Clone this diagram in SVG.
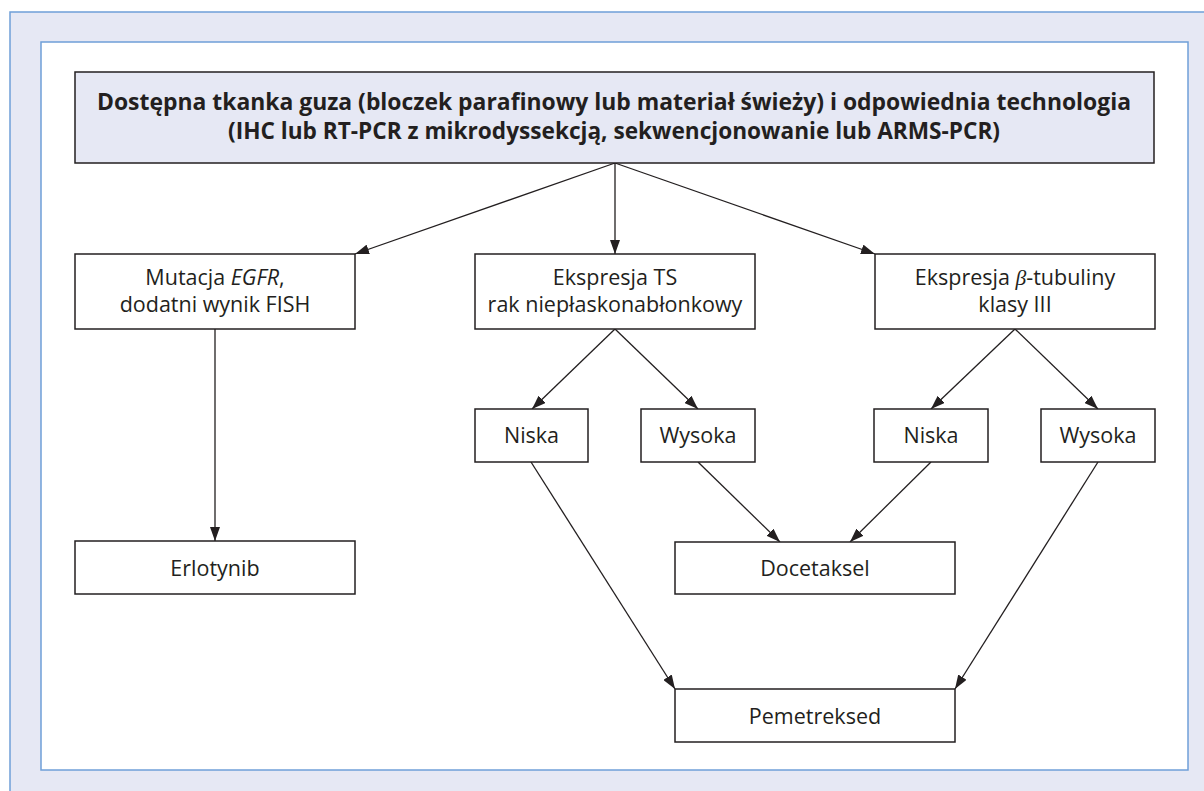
<svg xmlns="http://www.w3.org/2000/svg" width="1204" height="791" viewBox="0 0 1204 791">
<defs>
<marker id="ah" viewBox="0 0 14 10" refX="14" refY="5" markerWidth="14" markerHeight="10" markerUnits="userSpaceOnUse" orient="auto">
<path d="M0,0 L14,5 L0,10 z" fill="#231f20"/>
</marker>
<style>
.box{fill:#ffffff;stroke:#231f20;stroke-width:1.5}
.hdr{fill:#e6e8f4;stroke:#231f20;stroke-width:1.5}
.t{font-family:"Open Sans","Noto Sans",sans-serif;font-size:21.5px;fill:#231f20;text-anchor:middle}
.b{font-weight:bold;font-size:22.5px}
.c{fill:none;stroke:#231f20;stroke-width:1.3;marker-end:url(#ah)}
</style>
</defs>
<rect x="10" y="12" width="1200" height="790" fill="#e6e8f4" stroke="#6f9fd8" stroke-width="1.5"/>
<rect x="41" y="42" width="1147" height="728" fill="#ffffff" stroke="#6f9fd8" stroke-width="1.5"/>

<g id="connectors">
<line class="c" x1="615" y1="163" x2="355" y2="254"/>
<line class="c" x1="615" y1="163" x2="615" y2="254"/>
<line class="c" x1="615" y1="163" x2="875" y2="254"/>
<line class="c" x1="215" y1="329" x2="215" y2="541"/>
<line class="c" x1="615" y1="329" x2="532" y2="409"/>
<line class="c" x1="615" y1="329" x2="698" y2="409"/>
<line class="c" x1="1015" y1="329" x2="931" y2="409"/>
<line class="c" x1="1015" y1="329" x2="1098" y2="409"/>
<line class="c" x1="531" y1="462" x2="675" y2="689"/>
<line class="c" x1="698" y1="462" x2="780" y2="542"/>
<line class="c" x1="931" y1="462" x2="850" y2="542"/>
<line class="c" x1="1098" y1="462" x2="955" y2="689"/>
</g>

<g id="top">
<rect class="hdr" x="75" y="72" width="1079" height="91"/>
<text class="t b" x="614" y="110" textLength="1034" lengthAdjust="spacingAndGlyphs">Dostępna tkanka guza (bloczek parafinowy lub materiał świeży) i odpowiednia technologia</text>
<text class="t b" x="614" y="139" textLength="772" lengthAdjust="spacingAndGlyphs">(IHC lub RT-PCR z mikrodyssekcją, sekwencjonowanie lub ARMS-PCR)</text>
</g>

<g id="egfr">
<rect class="box" x="75" y="254" width="280" height="75"/>
<text class="t" x="215" y="285">Mutacja <tspan font-style="italic">EGFR</tspan>,</text>
<text class="t" x="215" y="312">dodatni wynik FISH</text>
</g>

<g id="ts">
<rect class="box" x="475" y="254" width="280" height="75"/>
<text class="t" x="615" y="285">Ekspresja TS</text>
<text class="t" x="615" y="312">rak niepłaskonabłonkowy</text>
</g>

<g id="beta">
<rect class="box" x="875" y="254" width="280" height="75"/>
<text class="t" x="1015" y="285">Ekspresja <tspan font-family="Liberation Serif,serif" font-style="italic">β</tspan>-tubuliny</text>
<text class="t" x="1015" y="312">klasy III</text>
</g>

<g id="niska1">
<rect class="box" x="475" y="409" width="113" height="53"/>
<text class="t" x="531.5" y="443">Niska</text>
</g>

<g id="wysoka1">
<rect class="box" x="641" y="409" width="114" height="53"/>
<text class="t" x="698" y="443">Wysoka</text>
</g>

<g id="niska2">
<rect class="box" x="874" y="409" width="114" height="53"/>
<text class="t" x="931" y="443">Niska</text>
</g>

<g id="wysoka2">
<rect class="box" x="1041" y="409" width="114" height="53"/>
<text class="t" x="1098" y="443">Wysoka</text>
</g>

<g id="erlotynib">
<rect class="box" x="75" y="541" width="280" height="53"/>
<text class="t" x="215" y="576">Erlotynib</text>
</g>

<g id="docetaksel">
<rect class="box" x="675" y="542" width="280" height="52"/>
<text class="t" x="815" y="576">Docetaksel</text>
</g>

<g id="pemetreksed">
<rect class="box" x="675" y="689" width="280" height="53"/>
<text class="t" x="815" y="724">Pemetreksed</text>
</g>
</svg>
